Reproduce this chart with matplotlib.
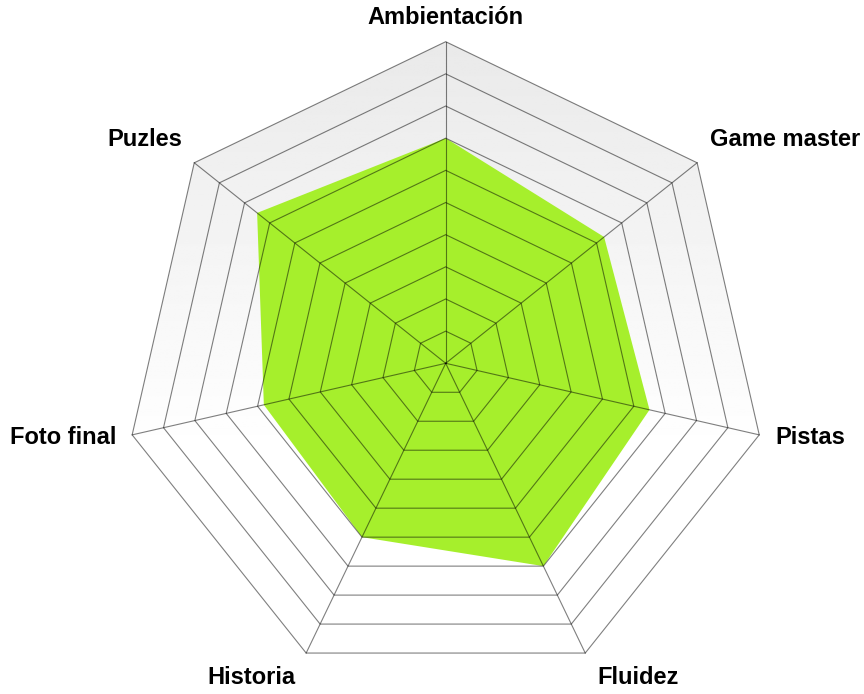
import numpy as np
import matplotlib
matplotlib.use("Agg")
import matplotlib.pyplot as plt
from matplotlib.patches import Polygon

# Data
categories = ["Ambientación", "Game master", "Pistas", "Fluidez",
              "Historia", "Foto final", "Puzles"]
values = [7.0, 6.3, 6.5, 7.0, 6.0, 5.8, 7.5]
levels = list(range(1, 11))
max_level = 10

# label placement: offset from outer vertex in pixels, horizontal alignment
label_offsets = [(0, 24), (13, 23), (16, -3), (12, -24),
                 (-11, -24), (-16, -3), (-12, 23)]
label_ha = ["center", "left", "left", "left", "right", "right", "right"]

fill_color = "#a6ef2c"

n = len(categories)
theta = np.pi / 2 - np.arange(n) * 2 * np.pi / n
ux, uy = np.cos(theta), np.sin(theta)

fig = plt.figure(figsize=(8.64, 6.94), dpi=100)
ax = fig.add_axes([0, 0, 1, 1])
ax.set_axis_off()

# map data units so center sits at (445.7, 363.3) px, 32.16 px per unit
scale = 32.16
cx, cy = 445.7, 363.3
ax.set_xlim(-cx / scale, (864 - cx) / scale)
ax.set_ylim(-(694 - cy) / scale, cy / scale)

# gradient background inside outer polygon
outer = np.column_stack([ux * max_level, uy * max_level])
clip = Polygon(outer, closed=True, facecolor="none", edgecolor="none")
ax.add_patch(clip)
ytop = max_level
ybot = -max_level
grad_y = np.linspace(ytop, ybot, 300)
shade = np.clip(0.915 + (ytop - grad_y) / (ytop - (-2.8)) * (1 - 0.915), 0, 1)
img = np.repeat(shade[:, None], 2, axis=1)
im = ax.imshow(img, cmap="gray", vmin=0, vmax=1, aspect="auto",
               extent=[-max_level, max_level, ybot, ytop], zorder=0)
im.set_clip_path(clip)

# data polygon
data_pts = np.column_stack([ux * np.array(values), uy * np.array(values)])
ax.add_patch(Polygon(data_pts, closed=True, facecolor=fill_color,
                     edgecolor="none", zorder=1))

# grid rings
for lv in levels:
    ring = np.column_stack([ux * lv, uy * lv])
    ax.add_patch(Polygon(ring, closed=True, facecolor="none",
                         edgecolor=(0, 0, 0, 0.5), linewidth=0.8, zorder=2))

# spokes
for i in range(n):
    ax.plot([0, ux[i] * max_level], [0, uy[i] * max_level],
            color=(0, 0, 0, 0.5), linewidth=0.8, zorder=2)

# labels
for i, name in enumerate(categories):
    ax.annotate(name, xy=(ux[i] * max_level, uy[i] * max_level),
                xytext=label_offsets[i], textcoords="offset pixels",
                ha=label_ha[i], va="center", fontsize=17,
                fontweight="bold", family="Liberation Sans", color="#000000")

fig.savefig("out.png", dpi=100)
